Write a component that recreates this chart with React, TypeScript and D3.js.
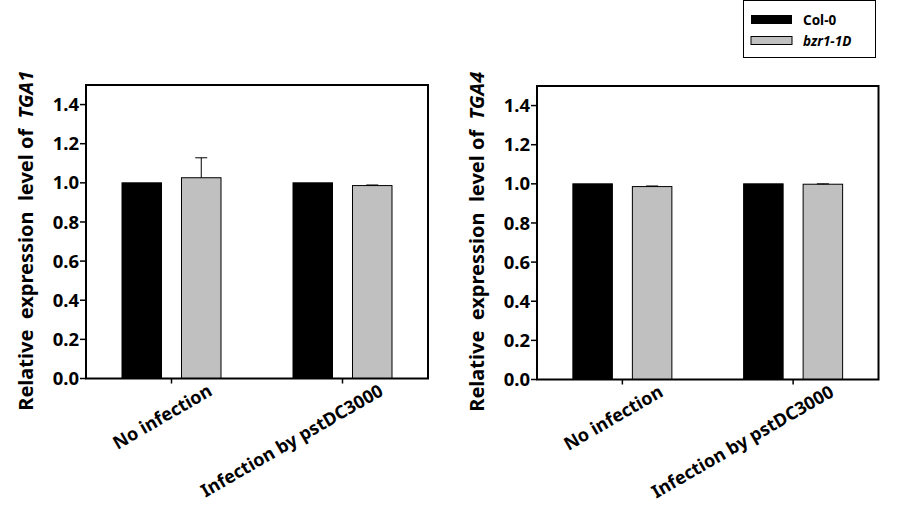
import React from "react";
import * as d3 from "d3";

const categories = ["No infection", "Infection by pstDC3000"];
const seriesNames = ["Col-0", "bzr1-1D"];
const tga1Col0 = [1.0, 1.0];
const tga1Bzr = [1.026, 0.986];
const tga1Col0Err = [0, 0];
const tga1BzrErr = [0.102, 0.003];
const tga4Col0 = [1.0, 1.0];
const tga4Bzr = [0.986, 0.998];
const tga4Col0Err = [0, 0];
const tga4BzrErr = [0.003, 0.002];
const yTicks = [0, 0.2, 0.4, 0.6, 0.8, 1.0, 1.2, 1.4];

const FONT = "'Noto Sans', 'Open Sans', sans-serif";
const colors = ["#000000", "#c0c0c0"];

type PanelProps = {
  x0: number; x1: number; y0: number; y1: number;
  gene: string;
  col0: number[]; bzr: number[]; col0Err: number[]; bzrErr: number[];
  titleX: number;
};

function Panel({ x0, x1, y0, y1, gene, col0, bzr, col0Err, bzrErr, titleX }: PanelProps) {
  const y = d3.scaleLinear().domain([0, 1.5]).range([y1, y0]);
  const x = d3.scalePoint<string>().domain(categories).range([x0, x1]).padding(0.5);
  const barW = 39.5;
  const gap = 20;
  const series = [col0, bzr];
  const errs = [col0Err, bzrErr];
  return (
    <g>
      {categories.map((c, ci) =>
        series.map((s, si) => {
          const cx = x(c)!;
          const bx = si === 0 ? cx - gap / 2 - barW : cx + gap / 2;
          const top = y(s[ci]);
          const e = errs[si][ci];
          return (
            <g key={c + si}>
              <rect x={bx} y={top} width={barW} height={y(0) - top} fill={colors[si]} stroke="#000" strokeWidth={1} />
              {e > 0 && (
                <g stroke="#000" strokeWidth={1}>
                  <line x1={bx + barW / 2} x2={bx + barW / 2} y1={top} y2={y(s[ci] + e)} />
                  <line x1={bx + barW / 2 - 6} x2={bx + barW / 2 + 6} y1={y(s[ci] + e)} y2={y(s[ci] + e)} />
                </g>
              )}
            </g>
          );
        })
      )}
      <rect x={x0} y={y0} width={x1 - x0} height={y1 - y0} fill="none" stroke="#000" strokeWidth={2} />
      {yTicks.map((t) => (
        <g key={t}>
          <line x1={x0 - 6} x2={x0} y1={y(t)} y2={y(t)} stroke="#000" strokeWidth={1.5} />
          <text x={x0 - 7} y={y(t)} dy="0.36em" textAnchor="end" fontFamily={FONT} fontWeight="bold" fontSize={18.5}>
            {t.toFixed(1)}
          </text>
        </g>
      ))}
      {categories.map((c) => (
        <g key={c}>
          <line x1={x(c)!} x2={x(c)!} y1={y1} y2={y1 + 5} stroke="#000" strokeWidth={1.5} />
          <text
            transform={`translate(${x(c)! + 42},${y1 + 16}) rotate(-30)`}
            textAnchor="end"
            fontFamily={FONT}
            fontWeight="bold"
            fontSize={18}
          >
            {c}
          </text>
        </g>
      ))}
      <text
        transform={`translate(${titleX},${(y0 + y1) / 2 + 9}) rotate(-90)`}
        textAnchor="middle"
        fontFamily={FONT}
        fontWeight="bold"
        fontSize={20}
        style={{ whiteSpace: "pre" }}
      >
        {"Relative  expression  level of  "}
        <tspan fontStyle="italic">{gene}</tspan>
      </text>
    </g>
  );
}

export default function App() {
  return (
    <svg width={917} height={519} style={{ position: "absolute", left: 0, top: 0, background: "#fff" }}>
      <rect x={0} y={0} width={917} height={519} fill="#fff" />
      <Panel x0={86} x1={428} y0={85} y1={378.5} gene="TGA1" col0={tga1Col0} bzr={tga1Bzr}
        col0Err={tga1Col0Err} bzrErr={tga1BzrErr} titleX={33} />
      <Panel x0={537} x1={878.5} y0={86} y1={379.5} gene="TGA4" col0={tga4Col0} bzr={tga4Bzr}
        col0Err={tga4Col0Err} bzrErr={tga4BzrErr} titleX={484} />
      <g>
        <rect x={743.5} y={0.5} width={132} height={57} fill="#fff" stroke="#000" strokeWidth={1} />
        {seriesNames.map((n, i) => (
          <g key={n}>
            <rect x={751} y={15 + i * 21.5} width={41} height={i === 0 ? 9 : 8} fill={colors[i]} stroke="#000" strokeWidth={i === 0 ? 0 : 1} />
            <text x={803} y={24.5 + i * 21} fontFamily={FONT} fontWeight="bold" fontSize={13.5} fontStyle={i === 1 ? "italic" : "normal"}>
              {n}
            </text>
          </g>
        ))}
      </g>
    </svg>
  );
}
